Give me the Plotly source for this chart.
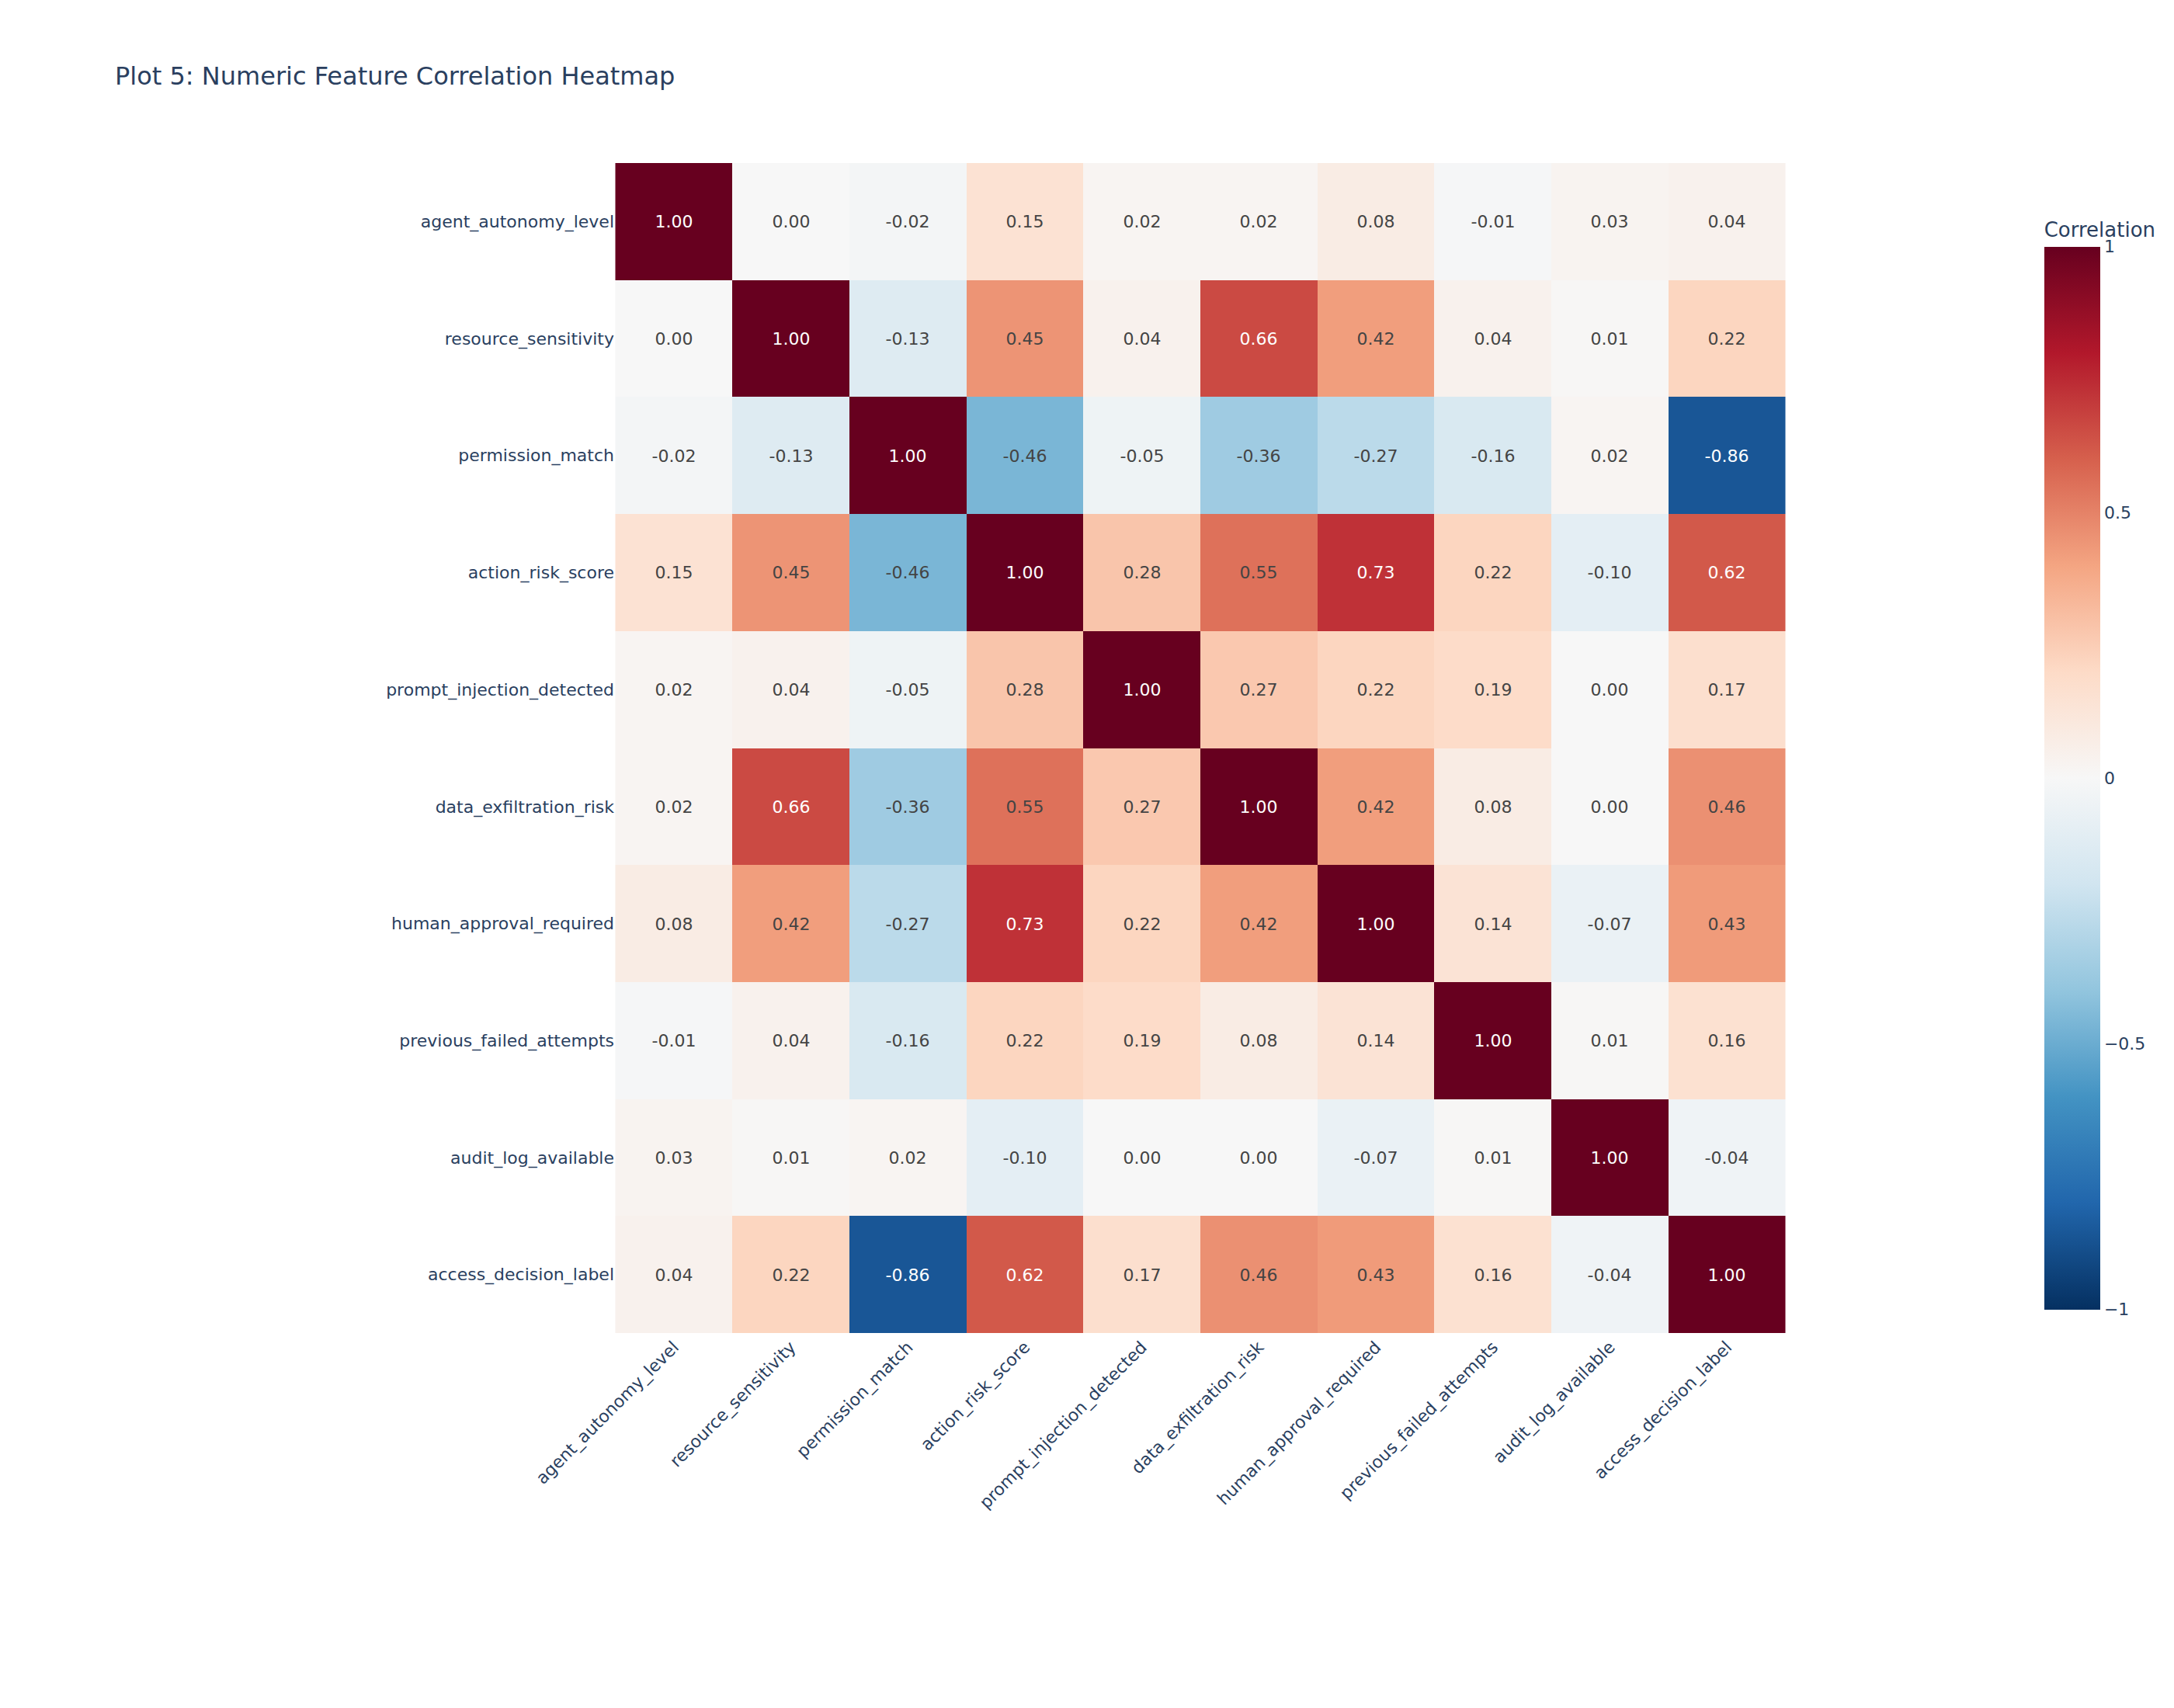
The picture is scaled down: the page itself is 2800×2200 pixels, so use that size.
import plotly.graph_objects as go

features = ["agent_autonomy_level", "resource_sensitivity", "permission_match",
            "action_risk_score", "prompt_injection_detected", "data_exfiltration_risk",
            "human_approval_required", "previous_failed_attempts", "audit_log_available",
            "access_decision_label"]

corr = [
    [1.00, 0.00, -0.02, 0.15, 0.02, 0.02, 0.08, -0.01, 0.03, 0.04],
    [0.00, 1.00, -0.13, 0.45, 0.04, 0.66, 0.42, 0.04, 0.01, 0.22],
    [-0.02, -0.13, 1.00, -0.46, -0.05, -0.36, -0.27, -0.16, 0.02, -0.86],
    [0.15, 0.45, -0.46, 1.00, 0.28, 0.55, 0.73, 0.22, -0.10, 0.62],
    [0.02, 0.04, -0.05, 0.28, 1.00, 0.27, 0.22, 0.19, 0.00, 0.17],
    [0.02, 0.66, -0.36, 0.55, 0.27, 1.00, 0.42, 0.08, 0.00, 0.46],
    [0.08, 0.42, -0.27, 0.73, 0.22, 0.42, 1.00, 0.14, -0.07, 0.43],
    [-0.01, 0.04, -0.16, 0.22, 0.19, 0.08, 0.14, 1.00, 0.01, 0.16],
    [0.03, 0.01, 0.02, -0.10, 0.00, 0.00, -0.07, 0.01, 1.00, -0.04],
    [0.04, 0.22, -0.86, 0.62, 0.17, 0.46, 0.43, 0.16, -0.04, 1.00],
]

fig = go.Figure(go.Heatmap(
    z=corr, x=features, y=features,
    colorscale="RdBu_r", zmin=-1, zmax=1,
    texttemplate="%{z:.2f}",
    textfont=dict(size=22),
    colorbar=dict(title=dict(text="Correlation", font=dict(size=26)),
                  x=1.214, xanchor="left", y=0.486, len=0.945,
                  thickness=72, tickfont=dict(size=22)),
))

fig.update_layout(
    width=2800, height=2200,
    title=dict(text="Plot 5: Numeric Feature Correlation Heatmap", x=0.05, font=dict(size=32)),
    template="plotly_white",
    font=dict(family="DejaVu Sans", size=22),
    margin=dict(l=784, r=508, t=202, b=491),
    yaxis=dict(autorange="reversed", scaleanchor="x", showgrid=False),
    xaxis=dict(tickangle=-45, showgrid=False),
)

fig.write_html("out.html")
